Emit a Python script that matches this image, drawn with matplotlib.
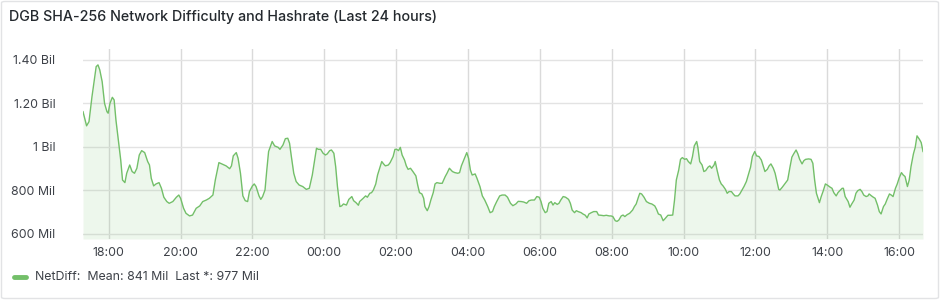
import matplotlib
matplotlib.use("Agg")
import matplotlib.pyplot as plt
import matplotlib.dates as mdates
from matplotlib.lines import Line2D
from matplotlib.patches import FancyBboxPatch
import numpy as np
import pandas as pd

# minutes relative to 18:00 (day 1), values in millions
t_min = [-43, -37, -33, -28, -21, -18, -15, -11, -7, -3, -1, 2, 6, 9, 12, 17, 20, 23, 27, 30,
         35, 39, 43, 47, 51, 55, 60, 65, 68, 71, 75, 79, 84, 88, 92, 97, 101, 107, 113, 117,
         120, 125, 129, 135, 140, 146, 152, 157, 163, 168, 174, 178, 184,
         196, 202, 205, 208, 213, 216, 220, 224, 228, 232, 235, 240, 243, 246, 251, 254, 257,
         261, 264, 267, 273, 277, 283, 286, 291, 295, 299, 302, 305, 309, 313, 318, 324, 330,
         335, 340, 344, 347, 350, 354, 358, 362, 365, 369, 372, 376, 379, 382, 386, 389, 392,
         397, 401, 406, 409, 413, 417,
         419, 425, 429, 432, 436, 439, 442, 446, 449, 452, 456, 459, 462, 467, 470, 475, 478,
         481, 484, 487, 490, 494, 497, 500, 504, 508, 513, 516, 519, 523, 526, 528, 532, 535,
         538, 542, 545, 548, 553, 557, 562, 565, 569, 574, 578, 583, 586, 589, 593, 596, 598,
         601, 604, 607, 612, 615, 620, 624, 628, 633, 637, 641, 644, 648,
         653, 657, 662, 666, 671, 675, 680, 684, 689, 693, 698, 702, 706, 711, 715, 719, 722,
         725, 729, 732, 735, 739, 742, 745, 749, 752, 755, 759, 763, 768, 771, 774, 778, 781,
         784, 789, 792, 796, 799, 802, 806, 810, 815, 818, 822, 827, 831, 836, 839, 842, 846,
         849, 852, 856, 859, 862, 866, 870, 875, 878, 881, 885,
         887, 890, 894, 898, 903, 907, 912, 915, 918, 922, 926, 929, 934, 938, 942, 945, 948,
         952, 955, 958, 962, 965, 968, 972, 975, 978, 982, 984, 987, 991, 994, 997, 1001, 1004,
         1007, 1011, 1013, 1016, 1020, 1023, 1026, 1030, 1033, 1036, 1040, 1043, 1046, 1051,
         1054, 1057, 1061, 1065, 1069, 1072, 1075, 1079, 1082, 1086, 1090, 1093, 1096, 1100,
         1103, 1106, 1110, 1113, 1116, 1119,
         1121, 1125, 1130, 1134, 1138, 1141, 1144, 1148, 1151, 1154, 1158, 1161, 1164, 1169,
         1173, 1176, 1179, 1182, 1187, 1190, 1193, 1197, 1200, 1205, 1208, 1211, 1215, 1218,
         1221, 1225, 1227, 1230, 1235, 1238, 1241, 1245, 1248, 1251, 1255, 1258, 1261, 1265,
         1268, 1270, 1274, 1277, 1280, 1284, 1287, 1290, 1294, 1297, 1300, 1304, 1307, 1310,
         1314, 1317, 1320, 1324, 1327, 1330, 1334, 1337, 1340, 1344, 1347, 1350, 1354, 1357, 1360]

net_diff_mil = [1162, 1097, 1116, 1231, 1369, 1377, 1354, 1300, 1200, 1162, 1155, 1200, 1228, 1216,
                1124, 1009, 940, 848, 836, 879, 917, 887, 879, 902, 963, 983, 974, 933, 917, 856,
                821, 830, 836, 810, 769, 749, 741, 749, 769, 779, 764, 718, 695, 683, 687, 718,
                729, 749, 756, 764, 779, 848, 928,
                913, 900, 913, 959, 974, 948, 879, 775, 753, 749, 795, 821, 830, 818, 775, 759,
                772, 802, 894, 979, 1025, 1005, 998, 989, 1009, 1038, 1040, 1017, 956, 879, 841,
                825, 818, 805, 810, 871, 940, 994, 989, 989, 971, 963, 968, 983, 986, 971, 910,
                818, 726, 729, 738, 733, 759, 772, 753, 744, 732,
                749, 764, 775, 769, 787, 790, 802, 830, 871, 897, 933, 922, 913, 917, 928, 956,
                989, 989, 983, 998, 963, 940, 913, 897, 902, 887, 867, 825, 790, 784, 764, 726,
                707, 726, 756, 790, 830, 836, 833, 833, 864, 879, 902, 887, 882, 879, 882, 913,
                940, 959, 974, 948, 894, 871, 876, 856, 818, 775, 756, 726, 698, 703, 726, 749,
                775, 779, 779, 769, 741, 730, 738, 750, 749, 747, 741, 753, 756, 756, 772, 769,
                749, 718, 698, 703, 741, 749, 733, 744, 736, 741, 756, 772, 769, 759, 741, 710,
                698, 707, 703, 698, 692, 686, 674, 692, 698, 703, 703, 687, 686, 684, 686, 683,
                683, 680, 661, 658, 664, 683, 687, 680, 689, 695, 710, 726, 738, 772,
                787, 784, 769, 749, 741, 738, 729, 713, 692, 687, 661, 670, 686, 686, 687, 756,
                848, 894, 943, 951, 943, 946, 933, 922, 956, 1005, 1025, 998, 933, 917, 887, 891,
                907, 913, 902, 917, 933, 894, 848, 830, 821, 805, 787, 795, 795, 784, 775, 775,
                784, 799, 818, 841, 879, 907, 956, 979, 959, 956, 940, 913, 887, 897, 913, 922,
                902, 879, 841, 805,
                802, 815, 833, 848, 910, 953, 968, 986, 968, 943, 922, 937, 943, 945, 943, 925,
                848, 787, 744, 772, 795, 830, 825, 815, 810, 790, 775, 790, 799, 810, 810, 772,
                749, 723, 738, 756, 787, 799, 805, 795, 779, 772, 775, 784, 775, 769, 764, 733,
                703, 692, 726, 738, 759, 784, 779, 772, 810, 830, 856, 882, 871, 864, 818, 848,
                910, 968, 998, 1051, 1035, 1020, 979]

ytick_vals = [600, 800, 1000, 1200, 1400]
ytick_labels = ["600 Mil", "800 Mil", "1 Bil", "1.20 Bil", "1.40 Bil"]
title = "DGB SHA-256 Network Difficulty and Hashrate (Last 24 hours)"
legend_text = "NetDiff:  Mean: 841 Mil  Last *: 977 Mil"

plt.rcParams['font.family'] = ['Inter', 'DejaVu Sans']

base = pd.Timestamp("2024-01-01 18:00")
times = base + pd.to_timedelta(t_min, unit="m")
vals = np.array(net_diff_mil, dtype=float)

W, H = 940, 300
fig = plt.figure(figsize=(W / 100, H / 100), dpi=100)
fig.patch.set_facecolor("white")

# panel border
fig.add_artist(FancyBboxPatch((1.5 / W, 1.5 / H), (W - 3) / W, (H - 3) / H,
                              boxstyle="round,pad=0,rounding_size=0.004",
                              transform=fig.transFigure, facecolor="none",
                              edgecolor="#e2e3e5", linewidth=1))

ax = fig.add_axes([83 / W, 1 - 239 / H, (923 - 83) / W, (239 - 49) / H])
ymin, ymax = 577, 1450
line_color = "#73bf69"
ax.plot(times, vals, color=line_color, linewidth=1.0)
ax.fill_between(times, vals, ymin, color=line_color, alpha=0.12, linewidth=0)
ax.set_ylim(ymin, ymax)
ax.set_xlim(times[0], times[-1])

ax.set_yticks(ytick_vals)
ax.set_yticklabels(ytick_labels)
ax.xaxis.set_major_locator(mdates.HourLocator(byhour=range(0, 24, 2)))
ax.xaxis.set_major_formatter(mdates.DateFormatter("%H:%M"))

for s in ax.spines.values():
    s.set_visible(False)
ax.tick_params(axis="both", length=0, labelsize=8.9, colors="#3d4148")
ax.tick_params(axis="y", pad=20)
ax.tick_params(axis="x", pad=6)
for lbl in ax.get_yticklabels():
    lbl.set_horizontalalignment("right")
ax.grid(True, axis="y", color="#e3e3e3", linewidth=1)
ax.grid(True, axis="x", color="#dadada", linewidth=1)
ax.set_axisbelow(True)

fig.text(9 / W, 1 - 17 / H, title, fontsize=10.3, fontweight="medium",
         color="#24292e", va="center", ha="left")

fig.add_artist(Line2D([14 / W, 26 / W], [1 - 277 / H, 1 - 277 / H], color=line_color,
                      linewidth=3.5, solid_capstyle="round", transform=fig.transFigure))
fig.text(35 / W, 1 - 277 / H, legend_text, fontsize=8.9, color="#3d4148",
         va="center", ha="left")

fig.savefig("out.png", dpi=100, facecolor="white")
